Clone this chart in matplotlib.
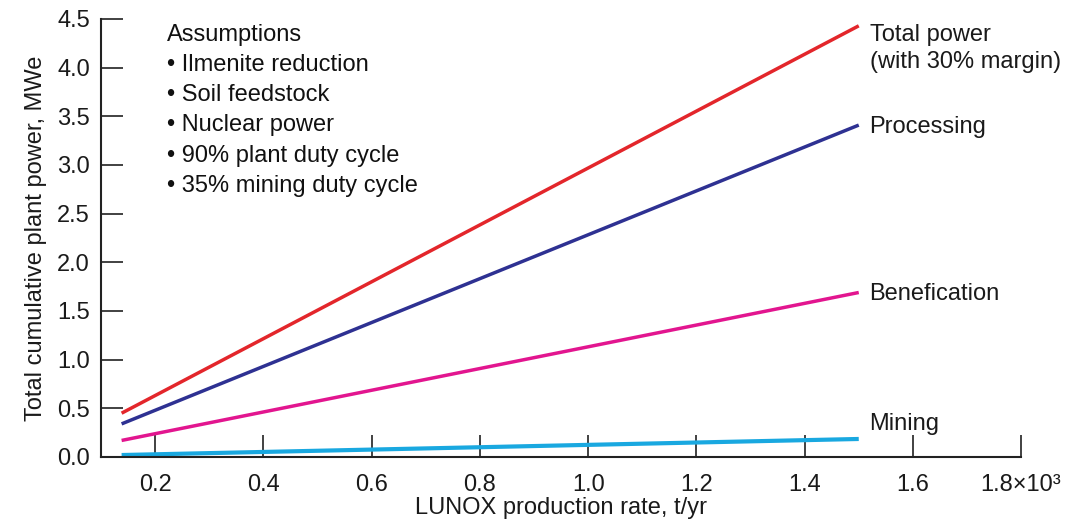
import matplotlib.pyplot as plt
import numpy as np

plt.rcParams['font.family'] = ['Liberation Sans', 'DejaVu Sans']

# production rate, x10^3 t/yr
rate = [0.138, 1.5]
total_power = [0.45, 4.43]
processing = [0.34, 3.41]
benefication = [0.17, 1.69]
mining = [0.02, 0.185]

xticks = [0.2, 0.4, 0.6, 0.8, 1.0, 1.2, 1.4, 1.6, 1.8]
xtick_labels = ['0.2', '0.4', '0.6', '0.8', '1.0', '1.2', '1.4', '1.6', '1.8×10³']
yticks = [0.0, 0.5, 1.0, 1.5, 2.0, 2.5, 3.0, 3.5, 4.0, 4.5]

assumptions = ['Assumptions', '• Ilmenite reduction', '• Soil feedstock',
               '• Nuclear power', '• 90% plant duty cycle', '• 35% mining duty cycle']

fig = plt.figure(figsize=(10.67, 5.19), dpi=100)
ax = fig.add_axes([0.0947, 0.1195, 0.957 - 0.0947, 0.9634 - 0.1195])

ax.plot(rate, total_power, color='#e3262b', lw=2.5, solid_capstyle='butt')
ax.plot(rate, processing, color='#2e3192', lw=2.5, solid_capstyle='butt')
ax.plot(rate, benefication, color='#e2158f', lw=2.5, solid_capstyle='butt')
ax.plot(rate, mining, color='#19a8e0', lw=3, solid_capstyle='butt')

ax.set_xlim(0.1, 1.8)
ax.set_ylim(0, 4.5)
ax.set_xticks(xticks)
ax.set_xticklabels(xtick_labels)
ax.set_yticks(yticks)
ax.set_yticklabels(['%.1f' % v for v in yticks])

for s in ['top', 'right']:
    ax.spines[s].set_visible(False)
for s in ['left', 'bottom']:
    ax.spines[s].set_linewidth(1.5)
    ax.spines[s].set_color('#222222')

fs = 17
ax.tick_params(direction='in', length=16, width=1.3, color='#333333',
               labelsize=fs, labelcolor='#1a1a1a')
ax.tick_params(axis='x', pad=12)
ax.tick_params(axis='y', pad=8)

ax.set_xlabel('LUNOX production rate, t/yr', fontsize=fs, color='#1a1a1a', labelpad=1)
ax.set_ylabel('Total cumulative plant power, MWe', fontsize=fs, color='#1a1a1a', labelpad=7)

lab_kw = dict(fontsize=fs, color='#1a1a1a', va='center', ha='left')
ax.text(1.52, 4.2, 'Total power\n(with 30% margin)', linespacing=1.3, **lab_kw)
ax.text(1.52, 3.39, 'Processing', **lab_kw)
ax.text(1.52, 1.67, 'Benefication', **lab_kw)
ax.text(1.52, 0.34, 'Mining', **lab_kw)

ax.text(0.222, 4.45, '\n'.join(assumptions), fontsize=fs, color='#111111',
        va='top', ha='left', linespacing=1.48)

fig.savefig('out.png', dpi=100)
